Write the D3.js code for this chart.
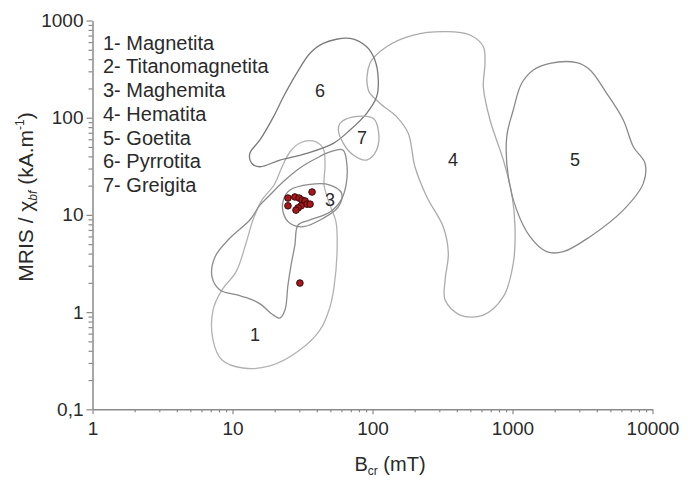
<!DOCTYPE html>
<html><head><meta charset="utf-8">
<script src="https://cdn.jsdelivr.net/npm/d3@7"></script>
<style>
html,body{margin:0;padding:0;background:#fff;}
svg{display:block;font-family:"Liberation Sans",Arial,sans-serif;}
</style></head>
<body><svg id="c" width="694" height="480"></svg>
<script>
// ---- data (Bcr in mT, MRIS/chi in kA/m) ----
const xTickValues = [1, 10, 100, 1000, 10000];
const xTickLabels = ["1", "10", "100", "1000", "10000"];
const yTickValues = [0.1, 1, 10, 100, 1000];
const yTickLabels = ["0,1", "1", "10", "100", "1000"];
const legendItems = ["1- Magnetita", "2- Titanomagnetita", "3- Maghemita", "4- Hematita", "5- Goetita", "6- Pyrrotita", "7- Greigita"];

const contour1 = [[37.6,57.6],[44.3,48.8],[45.8,32.6],[45.1,20.3],[49.7,12.6],[54.9,8.45],[55.8,4.06],[53.1,1.81],[49.7,1.13],[42.2,0.655],[30.3,0.407],[18.5,0.279],[11.9,0.266],[8.41,0.322],[7.26,0.516],[7.26,1.05],[8.41,1.69],[10.6,2.59],[12.5,5.14],[14.0,8.87],[16.2,14.2],[19.8,20.3],[22.9,32.6],[25.7,44.4],[30.3,54.9]];
const contour2 = [[61.5,46.5],[65.7,32.6],[64.7,20.3],[59.6,14.2],[49.7,10.7],[35.8,8.87],[29.4,7.87],[27.9,4.90],[26.2,3.05],[24.9,1.90],[23.7,1.05],[21.8,0.869],[19.1,0.956],[16.2,1.18],[14.0,1.33],[10.8,1.50],[8.14,1.69],[7.14,2.30],[7.50,3.69],[9.60,5.79],[13.3,8.87],[15.7,12.6],[18.5,16.0],[22.9,21.8],[30.3,30.4],[40.1,38.5],[49.7,44.4]];
const contour3 = [[23.1,14.2],[25.7,18.0],[35.8,20.6],[49.7,20.3],[60.2,16.7],[57.0,12.1],[44.5,9.23],[32.0,7.56],[25.7,8.20],[23.1,10.4]];
const contour4 = [[95.9,363],[126,537],[196,709],[339,767],[497,709],[619,537],[636,363],[619,208],[691,94.7],[860,36.7],[987,16.7],[1042,7.56],[1013,3.18],[860,1.44],[619,0.933],[422,0.933],[330,1.33],[330,2.14],[348,4.03],[320,7.56],[244,15.4],[201,31.3],[180,69.1],[149,102],[113,141],[93.3,193]];
const contour5 = [[1409,310],[1853,363],[2874,368],[3577,310],[4710,178],[6184,94.7],[7295,50.3],[8837,34.0],[8597,21.1],[6184,11.2],[3577,5.97],[2306,4.18],[1754,4.18],[1334,5.97],[1072,11.2],[933,24.7],[910,63.8],[1013,120],[1163,226]];
const contour6 = [[44.5,582],[69.1,656],[90.9,537],[104,392],[110,244],[107,164],[90.9,111],[69.1,74.7],[52.5,54.5],[33.9,43.0],[21.8,36.7],[15.7,31.3],[13.7,34.0],[13.3,43.0],[15.7,59.0],[19.6,102],[23.1,164],[28.7,286],[35.8,460]];
const contour7 = [[58.6,87.5],[72.9,102],[101,98.6],[110,74.7],[107,46.5],[90.9,36.7],[72.9,41.3],[61.9,54.5],[57.0,74.7]];

const regionNames = ["1","3","4","5","6","7"];
const regionLabelPos = [[14.5,0.581],[49.7,14.2],[376,36.7],[2795,36.7],[42.2,188],[84.1,61.8]];

const samplesBcr =  [24.9,24.9,27.9,29.9,31.4,33.0,34.0,30.9,29.4,28.4,35.8,37.0,30.3];
const samplesMris = [14.9,12.4,15.3,14.9,14.2,13.9,12.9,12.4,11.8,11.2,12.9,17.2,1.99];

// ---- chart ----
const svg = d3.select("#c");
const x = d3.scaleLog().domain([1, 10000]).range([92.5, 652.5]);
const y = d3.scaleLog().domain([0.1, 1000]).range([409.3, 20.5]);

function minorTicks(scale){
  const out=[];
  const [a,b]=scale.domain();
  for(let e=Math.log10(a); e<Math.log10(b); e++){
    for(let k=2;k<=9;k++) out.push(k*Math.pow(10,e));
  }
  return out;
}
const axisColor = "#8a8a8a";
const textColor = "#2a2a2a";

// contours
const contours = [
  {d: contour1, c: "#b2b2b2"},
  {d: contour2, c: "#8c8c8c"},
  {d: contour3, c: "#8c8c8c"},
  {d: contour4, c: "#ababab"},
  {d: contour5, c: "#8a8a8a"},
  {d: contour6, c: "#7a7a7a"},
  {d: contour7, c: "#ababab"}
];
const line = d3.line().x(d=>x(d[0])).y(d=>y(d[1])).curve(d3.curveCatmullRomClosed.alpha(0.5));
svg.append("g").selectAll("path").data(contours).join("path")
  .attr("d", d=>line(d.d)).attr("fill","none")
  .attr("stroke", d=>d.c).attr("stroke-width",1.3);

// region labels
svg.append("g").selectAll("text").data(regionNames).join("text")
  .attr("x",(d,i)=>x(regionLabelPos[i][0]))
  .attr("y",(d,i)=>y(regionLabelPos[i][1]))
  .attr("text-anchor","middle").attr("dominant-baseline","central")
  .attr("font-size",18).attr("fill",textColor).text(d=>d);

// samples
svg.append("g").selectAll("circle").data(samplesBcr).join("circle")
  .attr("cx",d=>x(d)).attr("cy",(d,i)=>y(samplesMris[i]))
  .attr("r",3.3).attr("fill","#a3191c").attr("stroke","#3a0808").attr("stroke-width",1);

// x axis
const xg = svg.append("g").attr("transform",`translate(0,${y(0.1)})`);
xg.append("g").call(d3.axisBottom(x).tickValues(minorTicks(x)).tickSize(3).tickFormat(""))
  .call(g=>g.select(".domain").remove());
const xMaj = xg.append("g").call(d3.axisBottom(x).tickValues(xTickValues).tickSize(5).tickSizeOuter(0).tickPadding(7)
  .tickFormat((d,i)=>xTickLabels[i]));
xg.selectAll("line").attr("stroke",axisColor).attr("stroke-width",1.2);
xg.selectAll(".domain").attr("stroke",axisColor).attr("stroke-width",1.5);
xMaj.selectAll("text").attr("font-size",19).attr("fill",textColor).attr("font-family","Liberation Sans, Arial, sans-serif");

// y axis
const yg = svg.append("g").attr("transform",`translate(${x(1)},0)`);
yg.append("g").call(d3.axisLeft(y).tickValues(minorTicks(y)).tickSize(4).tickFormat(""))
  .call(g=>g.select(".domain").remove());
const yMaj = yg.append("g").call(d3.axisLeft(y).tickValues(yTickValues).tickSize(6).tickSizeOuter(0).tickPadding(3)
  .tickFormat((d,i)=>yTickLabels[i]));
yg.selectAll("line").attr("stroke",axisColor).attr("stroke-width",1.2);
yg.selectAll(".domain").attr("stroke",axisColor).attr("stroke-width",1.5);
yMaj.selectAll("text").attr("font-size",19).attr("fill",textColor).attr("font-family","Liberation Sans, Arial, sans-serif");

// axis titles
const xt = svg.append("text").attr("x",390).attr("y",471).attr("text-anchor","middle")
  .attr("font-size",20).attr("fill",textColor);
xt.append("tspan").text("B");
xt.append("tspan").attr("font-size",12).attr("dy",4).text("cr");
xt.append("tspan").attr("dy",-4).text(" (mT)");

const yt = svg.append("text").attr("transform","translate(33,197) rotate(-90)").attr("text-anchor","middle")
  .attr("font-size",21).attr("fill",textColor);
yt.append("tspan").text("MRIS / χ");
yt.append("tspan").attr("font-size",12).attr("font-style","italic").attr("dy",4).text("bf");
yt.append("tspan").attr("dy",-4).text(" (kA.m");
yt.append("tspan").attr("font-size",12).attr("dy",-9).text("-1");
yt.append("tspan").attr("dy",9).text(")");

// legend
svg.append("g").selectAll("text").data(legendItems).join("text")
  .attr("x",103).attr("y",(d,i)=>42.7+i*23.7).attr("dominant-baseline","central")
  .attr("font-size",20).attr("fill",textColor).text(d=>d);
</script></body></html>
